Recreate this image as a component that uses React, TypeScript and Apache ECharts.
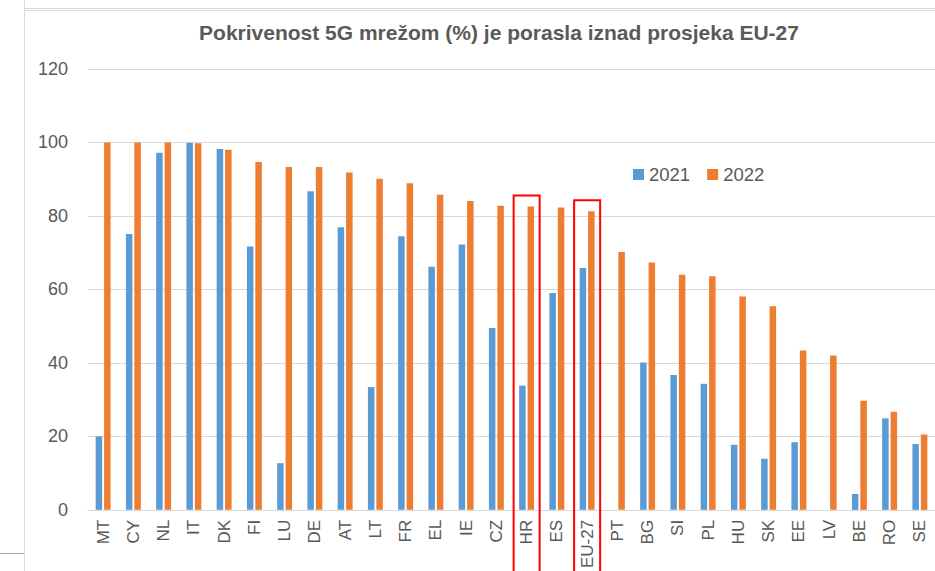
import React, { useEffect, useRef } from "react";
import * as echarts from "echarts";

const categories = ["MT", "CY", "NL", "IT", "DK", "FI", "LU", "DE", "AT", "LT", "FR", "EL", "IE", "CZ", "HR", "ES", "EU-27", "PT", "BG", "SI", "PL", "HU", "SK", "EE", "LV", "BE", "RO", "SE"];
const values2021 = [20.0, 75.1, 97.2, 99.9, 98.2, 71.7, 12.7, 86.7, 76.9, 33.4, 74.5, 66.2, 72.2, 49.5, 33.8, 59.0, 65.8, 0, 40.1, 36.7, 34.3, 17.7, 13.9, 18.4, 0, 4.3, 24.9, 17.9];
const values2022 = [100, 100, 100, 99.8, 98.0, 94.7, 93.3, 93.3, 91.8, 90.1, 88.9, 85.8, 84.1, 82.8, 82.6, 82.3, 81.3, 70.2, 67.3, 64.0, 63.6, 58.1, 55.4, 43.4, 42.0, 29.7, 26.7, 20.5];
const highlighted = ["HR", "EU-27"];
const seriesNames = ["2021", "2022"];
const titleText = "Pokrivenost 5G mrežom (%) je porasla iznad prosjeka EU-27";

const FONT = "'Liberation Sans', Arial, sans-serif";
const GREY = "#595959";

export default function App() {
  const ref = useRef<HTMLDivElement>(null);
  useEffect(() => {
    if (!ref.current) return;
    const chart = echarts.init(ref.current, null, { renderer: "svg" });
    const frame = [
      { type: "line", shape: { x1: 24.5, y1: 0, x2: 24.5, y2: 571 }, style: { stroke: "#d9d9d9", lineWidth: 1 } },
      { type: "line", shape: { x1: 24, y1: 8.5, x2: 935, y2: 8.5 }, style: { stroke: "#d9d9d9", lineWidth: 1 } },
      { type: "line", shape: { x1: 25, y1: 10.5, x2: 935, y2: 10.5 }, style: { stroke: "#d9d9d9", lineWidth: 1 } },
      { type: "line", shape: { x1: 0, y1: 553.5, x2: 24, y2: 553.5 }, style: { stroke: "#a6a6a6", lineWidth: 1 } },
    ];
    const option: any = {
      animation: false,
      backgroundColor: "#ffffff",
      title: {
        text: titleText,
        left: 494,
        textAlign: "center",
        top: 17,
        textStyle: { fontFamily: FONT, fontWeight: "bold", fontSize: 21, color: GREY },
      },
      legend: {
        data: seriesNames,
        left: 628,
        top: 160,
        itemWidth: 11,
        itemHeight: 11,
        itemGap: 17,
        icon: "rect",
        textStyle: { fontFamily: FONT, fontSize: 18.5, color: GREY },
      },
      grid: { left: 88, top: 69, width: 849, bottom: 60, containLabel: false },
      xAxis: {
        type: "category",
        data: categories,
        axisLine: { lineStyle: { color: "#d9d9d9" } },
        axisTick: { show: false },
        axisLabel: { rotate: 90, margin: 10, fontFamily: FONT, fontSize: 17, color: GREY, interval: 0 },
      },
      yAxis: {
        type: "value",
        min: 0,
        max: 120,
        interval: 20,
        axisLine: { show: false },
        axisTick: { show: false },
        splitLine: { lineStyle: { color: "#d9d9d9" } },
        axisLabel: { fontFamily: FONT, fontSize: 18, color: GREY, margin: 20 },
      },
      series: [
        { name: seriesNames[0], type: "bar", data: values2021, barWidth: 6.5, barGap: "30%", itemStyle: { color: "#5B9BD5" } },
        { name: seriesNames[1], type: "bar", data: values2022, barWidth: 6.5, barGap: "30%", itemStyle: { color: "#ED7D31" } },
      ],
      graphic: frame,
    };
    chart.setOption(option);
    const boxes = highlighted.map((c) => {
      const i = categories.indexOf(c);
      const top = Math.max(values2021[i], values2022[i]);
      const px = chart.convertToPixel({ gridIndex: 0 }, [c, top]) as number[];
      return {
        type: "rect",
        shape: { x: px[0] - 13, y: px[1] - 11, width: 26, height: 600 },
        style: { fill: "none", stroke: "#ff0000", lineWidth: 2 },
        z: 100,
      };
    });
    chart.setOption({ graphic: [...frame, ...boxes] });
    return () => chart.dispose();
  }, []);
  return <div ref={ref} style={{ width: 935, height: 571, position: "absolute", left: 0, top: 0 }} />;
}
